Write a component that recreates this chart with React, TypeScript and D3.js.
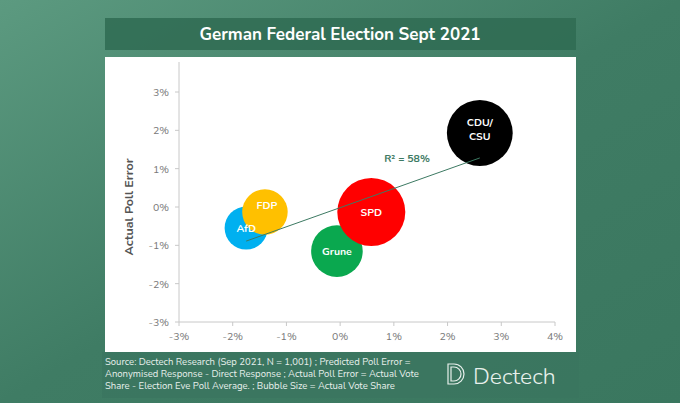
import React from "react";
import * as d3 from "d3";

const parties = ["CDU/CSU", "SPD", "Grune", "FDP", "AfD"];
const predictedError = [2.6, 0.58, -0.06, -1.4, -1.75];
const actualError = [1.93, -0.13, -1.15, -0.13, -0.55];
const voteShare = [24.1, 25.7, 14.8, 11.5, 10.3];
const colors = ["#000000", "#ff0000", "#0aa84f", "#ffc000", "#00b0f0"];
const trendX = [-1.75, 2.6];
const trendY = [-0.89, 1.28];
const ticks = [-3, -2, -1, 0, 1, 2, 3];
const xTicks = [-3, -2, -1, 0, 1, 2, 3, 4];

const font = "Nunito, 'Open Sans', Lato, sans-serif";

export default function App() {
  const x = d3.scaleLinear().domain([-3, 4]).range([179, 555]);
  const y = d3.scaleLinear().domain([-3, 3]).range([322, 92]);
  const r = d3.scaleSqrt().domain([0, 25.7]).range([0, 34]);
  const order = [4, 3, 2, 1, 0];
  // label offsets relative to bubble centre
  const dx = [0, 0, 0, 2, 0];
  const dy = [-3, 4, 4, -3, 4];
  return (
    <svg width={680} height={403} style={{ position: "absolute", left: 0, top: 0 }}>
      <defs>
        <linearGradient id="bg" x1="0" y1="0" x2="1" y2="1">
          <stop offset="0" stopColor="#5c9a80" />
          <stop offset="0.5" stopColor="#3f7c64" />
          <stop offset="1" stopColor="#3a775f" />
        </linearGradient>
      </defs>
      <rect width={680} height={403} fill="url(#bg)" />
      <rect x={105} y={18} width={471} height={32} fill="#2f6b52" opacity={0.85} />
      <text x={340} y={40} textAnchor="middle" fill="#fff" fontFamily={font} fontWeight="bold" fontSize={17}>
        German Federal Election Sept 2021
      </text>
      <rect x={105} y={57} width={471} height={295} fill="#fff" />
      <line x1={179} x2={179} y1={62} y2={322} stroke="#c8c8c8" />
      <line x1={179} x2={555} y1={322} y2={322} stroke="#c8c8c8" />
      {ticks.map((t) => (
        <g key={"y" + t}>
          <line x1={175} x2={179} y1={y(t)} y2={y(t)} stroke="#c8c8c8" />
          <text x={169} y={y(t) + 4} textAnchor="end" fontSize={10.5} fill="#777" fontFamily={font}>
            {t}%
          </text>
        </g>
      ))}
      {xTicks.map((t) => (
        <g key={"x" + t}>
          <line x1={x(t)} x2={x(t)} y1={322} y2={326} stroke="#c8c8c8" />
          <text x={x(t)} y={340} textAnchor="middle" fontSize={10.5} fill="#777" fontFamily={font}>
            {t}%
          </text>
        </g>
      ))}
      <text transform="translate(133,207) rotate(-90)" textAnchor="middle" fontSize={12.5} fontWeight="bold" fill="#555" fontFamily={font}>
        Actual Poll Error
      </text>
      {order.map((i) => (
        <circle key={parties[i]} cx={x(predictedError[i])} cy={y(actualError[i])} r={r(voteShare[i])} fill={colors[i]} />
      ))}
      <line x1={x(trendX[0])} y1={y(trendY[0])} x2={x(trendX[1])} y2={y(trendY[1])} stroke="#3d7a63" strokeWidth={1} />
      <text x={407} y={162} textAnchor="middle" fontSize={10.5} fill="#3d7a63" fontWeight="bold" fontFamily={font}>
        R² = 58%
      </text>
      {order.map((i) => {
        const lines = parties[i] === "CDU/CSU" ? ["CDU/", "CSU"] : [parties[i]];
        const cx = x(predictedError[i]) + dx[i];
        const cy = y(actualError[i]) + dy[i] - (lines.length - 1) * 4;
        return lines.map((l, k) => (
          <text key={"l" + i + k} x={cx} y={cy + k * 14} textAnchor="middle" fill="#fff" fontSize={10.5} fontWeight="bold" fontFamily={font}>
            {l}
          </text>
        ));
      })}
      <rect x={102} y={352} width={477} height={46} fill="#3a7560" opacity={0.7} />
      <text fill="#e8f0ec" fontSize={9.5} fontFamily={font}>
        <tspan x={105} y={365}>Source: Dectech Research (Sep 2021, N = 1,001) ; Predicted Poll Error =</tspan>
        <tspan x={105} y={377}>Anonymised Response - Direct Response ; Actual Poll Error = Actual Vote</tspan>
        <tspan x={105} y={389}>Share - Election Eve Poll Average. ; Bubble Size = Actual Vote Share</tspan>
      </text>
      <g stroke="#e8f0ec" fill="none" strokeWidth={1.2}>
        <path d="M448,364 h6 a10,10 0 0 1 0,20 h-6 z" />
        <path d="M451,367 h3 a7,7 0 0 1 0,14 h-3 z" />
      </g>
      <text x={473} y={384} fill="#e8f0ec" fontSize={23} fontFamily={font} fontWeight={300}>Dectech</text>
    </svg>
  );
}
